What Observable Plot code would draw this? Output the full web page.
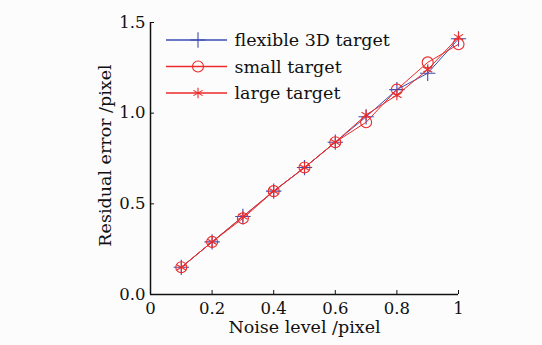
<!DOCTYPE html>
<html>
<head>
<meta charset="utf-8">
<script src="https://cdn.jsdelivr.net/npm/d3@7"></script>
<script src="https://cdn.jsdelivr.net/npm/@observablehq/plot@0.6"></script>
<style>
  html, body { margin: 0; padding: 0; background: #fcfcfc; }
  #chart { width: 542px; height: 345px; }
</style>
</head>
<body>
<div id="chart"></div>
<script>
const noise = [0.1, 0.2, 0.3, 0.4, 0.5, 0.6, 0.7, 0.8, 0.9, 1.0];
const flexible3D = [0.15, 0.29, 0.43, 0.57, 0.70, 0.84, 0.98, 1.13, 1.22, 1.41];
const smallTarget = [0.15, 0.29, 0.42, 0.57, 0.70, 0.84, 0.95, 1.13, 1.28, 1.38];
const largeTarget = [0.15, 0.29, 0.43, 0.57, 0.70, 0.84, 0.99, 1.10, 1.24, 1.42];
const seriesNames = ["flexible 3D target", "small target", "large target"];
const seriesColors = ["#3a4db3", "#ec2a2a", "#ec2a2a"];
const seriesSymbols = ["plus", "circle", "asterisk"];
const xTicks = [0, 0.2, 0.4, 0.6, 0.8, 1];
const yTicks = [0, 0.5, 1.0, 1.5];
const xLabel = "Noise level /pixel";
const yLabel = "Residual error /pixel";

const serif = "DejaVu Serif, serif";
const allSeries = [flexible3D, smallTarget, largeTarget];
const rows = allSeries.flatMap((vals, i) => vals.map((v, j) => ({x: noise[j], y: v, s: seriesNames[i], i})));
const symR = [5, 5.5, 5];

const marks = [];
allSeries.forEach((vals, i) => {
  const data = rows.filter(d => d.i === i);
  marks.push(Plot.line(data, {x: "x", y: "y", stroke: seriesColors[i], strokeWidth: 1}));
  marks.push(Plot.dot(data, {x: "x", y: "y", stroke: seriesColors[i], symbol: seriesSymbols[i], r: symR[i], strokeWidth: 1.1, fill: "none"}));
});

const legendRows = seriesNames.map((name, i) => ({name, i}));

const chart = Plot.plot({
  width: 542,
  height: 345,
  marginLeft: 150,
  marginRight: 84,
  marginTop: 22,
  marginBottom: 51,
  style: {background: "#fcfcfc", fontSize: "16.5px", fontFamily: serif, color: "#111"},
  x: {domain: [0, 1]},
  y: {domain: [0, 1.5]},
  marks: [
    ...marks,
    Plot.ruleX([0], {stroke: "#111", strokeWidth: 1.5}),
    Plot.ruleY([0], {stroke: "#111", strokeWidth: 1.5}),
    Plot.axisX({ticks: xTicks, tickSize: -4, tickPadding: 12, tickFormat: d => String(d), label: null, fontSize: 16.5}),
    Plot.axisY({ticks: yTicks, tickSize: -4, tickPadding: 9, tickFormat: d3.format(".1f"), label: null, fontSize: 16.5}),
    Plot.text([xLabel], {frameAnchor: "bottom", dy: 38, fontSize: 17.5, text: d => d}),
    Plot.text([yLabel], {frameAnchor: "left", dx: -45, dy: -3, rotate: -90, textAnchor: "middle", fontSize: 17.5, text: d => d}),
    ...legendRows.map(r => Plot.text([r.name], {frameAnchor: "top-left", lineAnchor: "middle", dx: 84, dy: 18 + r.i * 26.5, textAnchor: "start", fontSize: 17.5, fill: "#111", text: d => d}))
  ]
});
document.getElementById("chart").appendChild(chart);

// legend line samples and symbols
const svg = d3.select(chart);
const symbolTypes = {plus: d3.symbolPlus, circle: d3.symbolCircle, asterisk: d3.symbolAsterisk};
const lg = svg.append("g").attr("transform", "translate(166,40)");
seriesNames.forEach((name, i) => {
  const g = lg.append("g").attr("transform", `translate(0,${i * 26.5})`);
  g.append("line").attr("x1", 0).attr("x2", 61).attr("y1", 0).attr("y2", 0)
    .attr("stroke", seriesColors[i]).attr("stroke-width", 1.3);
  const sym = d3.symbol(symbolTypes[seriesSymbols[i]], Math.PI * symR[i] ** 2);
  g.append("path").attr("transform", "translate(32,0)").attr("d", sym())
    .attr("fill", "none").attr("stroke", seriesColors[i]).attr("stroke-width", 1.1);
});
</script>
</body>
</html>
